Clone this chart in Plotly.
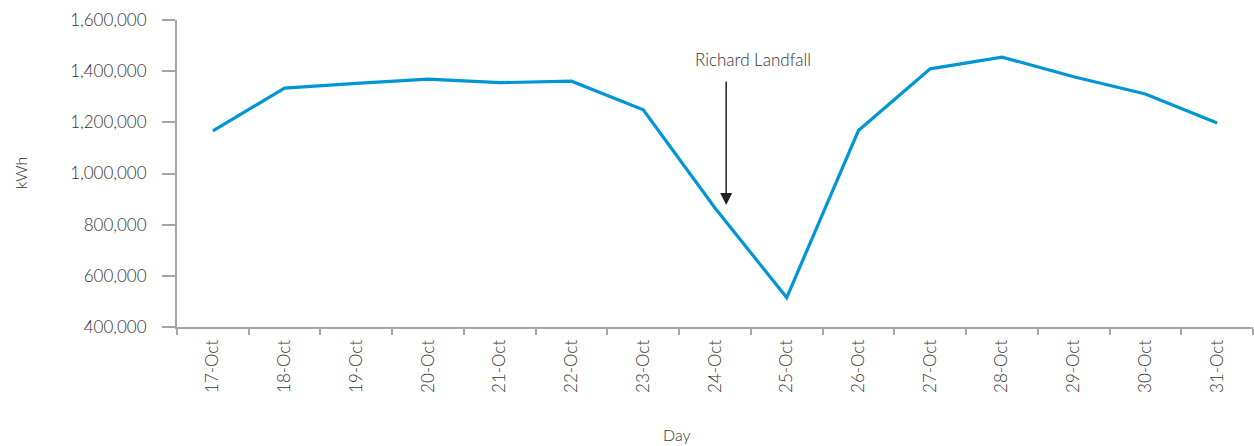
import plotly.graph_objects as go

days = ["17-Oct", "18-Oct", "19-Oct", "20-Oct", "21-Oct", "22-Oct", "23-Oct", "24-Oct",
        "25-Oct", "26-Oct", "27-Oct", "28-Oct", "29-Oct", "30-Oct", "31-Oct"]
kwh = [1167000, 1334000, 1352000, 1369000, 1355000, 1361000, 1249000, 865000,
       515000, 1168000, 1409000, 1455000, 1378000, 1311000, 1197000]
y_ticks = [400000, 600000, 800000, 1000000, 1200000, 1400000, 1600000]

ann_text = "Richard Landfall"
ann_text_x = 7.53
ann_text_y = 1444000
arrow_x = 7.156
arrow_head_y = 877000
arrow_tail_y = 1365000

FONT = "Lato"
TXT = "#333333"
AXC = "#a6a6a6"
BLUE = "#0096D6"

fig = go.Figure()
fig.add_trace(go.Scatter(
    x=days, y=kwh, mode="lines",
    line=dict(color=BLUE, width=3.2),
    hoverinfo="skip", showlegend=False,
))

fig.update_layout(
    width=1254, height=446,
    margin=dict(l=177, r=1, t=20, b=119),
    paper_bgcolor="white", plot_bgcolor="white",
    font=dict(family=FONT, color=TXT, size=17, weight=300),
    showlegend=False,
)
fig.update_xaxes(
    type="category", range=[-0.5, len(days) - 0.5],
    showgrid=False, zeroline=False,
    showline=True, linecolor=AXC, linewidth=2,
    ticks="outside", tickson="boundaries", ticklen=6, tickcolor=AXC, tickwidth=2,
    tickangle=-90, tickfont=dict(family=FONT, size=17, color=TXT, weight=300),
    ticklabelstandoff=4,
)
fig.update_yaxes(
    range=[y_ticks[0], y_ticks[-1]], tickvals=y_ticks,
    ticktext=[f"{v:,}" for v in y_ticks],
    showgrid=False, zeroline=False,
    showline=True, linecolor=AXC, linewidth=2,
    ticks="outside", ticklen=13, tickcolor=AXC, tickwidth=2,
    tickfont=dict(family=FONT, size=17, color=TXT, weight=300),
    ticklabelstandoff=12,
)

fig.add_annotation(
    x=arrow_x, y=arrow_head_y, xref="x", yref="y",
    ax=arrow_x, ay=arrow_tail_y, axref="x", ayref="y",
    text="", showarrow=True, arrowhead=2, arrowsize=1.6, arrowwidth=1.5,
    arrowcolor="#231f20", standoff=0,
)
fig.add_annotation(
    x=ann_text_x, y=ann_text_y, xref="x", yref="y",
    text=ann_text, showarrow=False, xanchor="center", yanchor="middle",
    font=dict(family=FONT, size=17, color=TXT, weight=300),
)
fig.add_annotation(
    x=0.4647, y=-0.3505, xref="paper", yref="paper",
    text="Day", showarrow=False, xanchor="center", yanchor="middle",
    font=dict(family=FONT, size=16, color=TXT, weight=300),
)
fig.add_annotation(
    x=-0.1453, y=0.5, xref="paper", yref="paper",
    text="kWh", showarrow=False, textangle=-90, xanchor="center", yanchor="middle",
    font=dict(family=FONT, size=16, color=TXT, weight=300),
)

fig.write_html(
    "out.html",
    config={"displayModeBar": False},
    post_script="document.body.style.margin='0';document.body.style.overflow='hidden';",
)
